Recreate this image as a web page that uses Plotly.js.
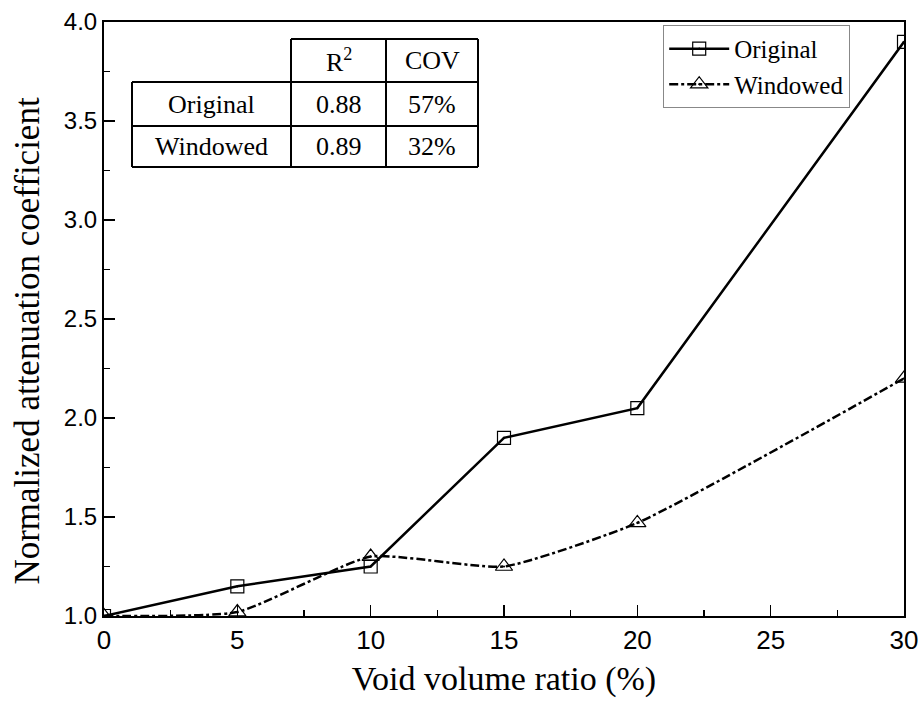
<!DOCTYPE html>
<html>
<head>
<meta charset="utf-8">
<script src="https://cdn.plot.ly/plotly-3.0.1.min.js"></script>
<style>html,body{margin:0;padding:0;background:#fff;}#chart{width:921px;height:704px;}</style>
</head>
<body>
<div id="chart"></div>
<script>
const voidRatio = [0, 5, 10, 15, 20, 30];
const originalVals = [1.0, 1.15, 1.25, 1.9, 2.05, 3.9];
const windowedVals = [1.0, 1.02, 1.3, 1.25, 1.47, 2.2];
const seriesNames = ['Original', 'Windowed'];
const tableHeader = ['R<sup>2</sup>', 'COV'];
const tableRowLabels = ['Original', 'Windowed'];
const tableR2 = ['0.88', '0.89'];
const tableCOV = ['57%', '32%'];
const xTitle = 'Void volume ratio (%)';
const yTitle = 'Normalized attenuation coefficient';

const serif = '"Liberation Serif", "Times New Roman", Times, serif';
const sans = '"Liberation Sans", Arial, Helvetica, sans-serif';

const traces = [
  {
    x: voidRatio, y: originalVals, name: seriesNames[0], type: 'scatter', mode: 'lines+markers',
    line: {color: '#000', width: 2.5},
    marker: {symbol: 'square-open-dot', size: 13, color: '#000', line: {width: 1.2, color: '#000'}},
    cliponaxis: true
  },
  {
    x: voidRatio, y: windowedVals, name: seriesNames[1], type: 'scatter', mode: 'lines+markers',
    line: {color: '#000', width: 2.5, dash: 'dashdot', shape: 'spline', smoothing: 0.5},
    marker: {symbol: 'triangle-up-open-dot', size: 15, color: '#000', line: {width: 1.2, color: '#000'}},
    cliponaxis: true
  }
];

const colX = [0.035, 0.23375, 0.3525, 0.4675];
const rowY = [0.9714, 0.899, 0.8249, 0.7559];
const shapes = [];
const ln = {color: '#000', width: 2};
shapes.push({type: 'line', xref: 'paper', yref: 'paper', x0: colX[1], x1: colX[3], y0: rowY[0], y1: rowY[0], line: ln});
for (let i = 1; i < 4; i++) {
  shapes.push({type: 'line', xref: 'paper', yref: 'paper', x0: colX[0], x1: colX[3], y0: rowY[i], y1: rowY[i], line: ln});
}
shapes.push({type: 'line', xref: 'paper', yref: 'paper', x0: colX[0], x1: colX[0], y0: rowY[1], y1: rowY[3], line: ln});
for (let j = 1; j < 4; j++) {
  shapes.push({type: 'line', xref: 'paper', yref: 'paper', x0: colX[j], x1: colX[j], y0: rowY[0], y1: rowY[3], line: ln});
}

const annotations = [];
const tfont = {family: serif, size: 26, color: '#000'};
function cell(text, c, r) {
  annotations.push({xref: 'paper', yref: 'paper', x: (colX[c] + colX[c + 1]) / 2, y: (rowY[r] + rowY[r + 1]) / 2,
    text: text, showarrow: false, xanchor: 'center', yanchor: 'middle', font: tfont});
}
cell(tableHeader[0], 1, 0);
cell(tableHeader[1], 2, 0);
for (let i = 0; i < 2; i++) {
  cell(tableRowLabels[i], 0, i + 1);
  cell(tableR2[i], 1, i + 1);
  cell(tableCOV[i], 2, i + 1);
}
// y-axis title (placed slightly below the plot centre as in the reference)
annotations.push({xref: 'paper', yref: 'paper', x: -0.095, y: 0.462, text: yTitle, textangle: -90,
  showarrow: false, xanchor: 'center', yanchor: 'middle', font: {family: serif, size: 35, color: '#000'}});

const layout = {
  width: 921, height: 704,
  margin: {l: 104, r: 17, t: 22, b: 88},
  paper_bgcolor: '#fff', plot_bgcolor: '#fff',
  font: {family: serif, color: '#000'},
  showlegend: true,
  legend: {x: 0.699, y: 0.995, xanchor: 'left', yanchor: 'top', bgcolor: '#fff',
    bordercolor: '#888', borderwidth: 1, font: {family: serif, size: 25, color: '#000'},
    itemwidth: 60, tracegroupgap: 0},
  xaxis: {
    range: [0, 30], tickvals: [0, 5, 10, 15, 20, 25, 30], ticktext: ['0', '5', '10', '15', '20', '25', '30'],
    ticks: 'inside', ticklen: 11, tickwidth: 1.5, tickcolor: '#000',
    minor: {dtick: 2.5, ticks: 'inside', ticklen: 6, tickwidth: 1.5, tickcolor: '#000'},
    showline: true, linewidth: 2, linecolor: '#000', mirror: true, showgrid: false, zeroline: false,
    tickfont: {family: '"Liberation Sans Narrow", "Arial Narrow", ' + sans, size: 26, color: '#000'},
    title: {text: xTitle, font: {family: serif, size: 34, color: '#000'}, standoff: 12}
  },
  yaxis: {
    range: [1, 4], tickvals: [1, 1.5, 2, 2.5, 3, 3.5, 4], ticktext: ['1.0', '1.5', '2.0', '2.5', '3.0', '3.5', '4.0'],
    ticks: 'inside', ticklen: 11, tickwidth: 1.5, tickcolor: '#000',
    minor: {dtick: 0.25, ticks: 'inside', ticklen: 6, tickwidth: 1.5, tickcolor: '#000'},
    showline: true, linewidth: 2, linecolor: '#000', mirror: true, showgrid: false, zeroline: false,
    tickfont: {family: sans, size: 24, color: '#000'}
  },
  shapes: shapes,
  annotations: annotations
};

Plotly.newPlot('chart', traces, layout, {displayModeBar: false, staticPlot: true});
</script>
</body>
</html>
